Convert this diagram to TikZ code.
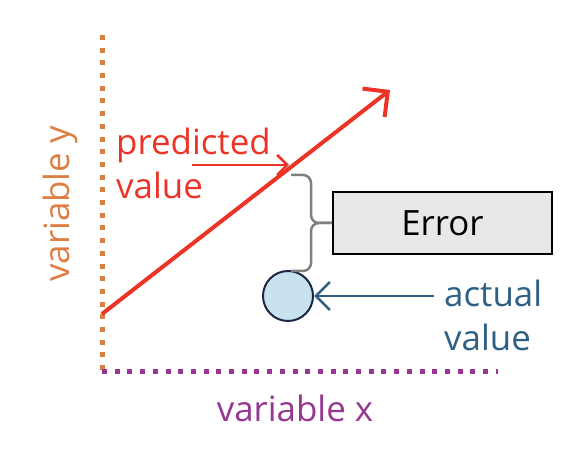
\documentclass[tikz,border=0pt]{standalone}
\usepackage{fontspec}
\setmainfont{Open Sans}
\usepackage{xcolor}
\usetikzlibrary{arrows.meta}
\definecolor{ycol}{RGB}{221,126,68}
\definecolor{xcol}{RGB}{150,55,145}
\definecolor{pcol}{RGB}{236,52,38}
\definecolor{acol}{RGB}{46,96,132}
\definecolor{ecol}{RGB}{232,232,232}
\definecolor{ccol}{RGB}{200,226,242}
\definecolor{bcol}{RGB}{25,40,65}
\tikzset{
  axis/.style={line width=5bp, dash pattern=on 5bp off 7.7bp},
  barb/.style={-{Straight Barb[length=#1, width=2*#1]}},
  brace/.style={draw=gray, line width=2.5bp, rounded corners=8bp},
}
\begin{document}
\begin{tikzpicture}[x=1bp, y=1bp, font=\fontsize{35}{44}\selectfont]
      \useasboundingbox (0,0) rectangle (574,452);
      \coordinate (o) at (102, 80);
      \coordinate (t) at (102, 417);
      \coordinate (r) at (498, 80);
      \coordinate (s) at (102, 138);
      \coordinate (e) at (390, 362);
      \coordinate (h) at (289, 287);
      \coordinate (u) at (291, 277);
      \coordinate (d) at (291, 181);
      \node[circle, draw=bcol, fill=ccol, line width=2bp, minimum size=50bp, inner sep=0pt] (c) at (288, 156) {};
      \node[draw=black, fill=ecol, line width=2bp, minimum width=219bp, minimum height=62bp] (b) at (442.5, 229) {Error};
      \node[pcol, anchor=north west, align=left, inner sep=0pt] (p) at (116, 324) {predicted\\value};
      \node[acol, anchor=north west, align=left, inner sep=0pt] (a) at (444, 172) {actual\\value};
      \node[xcol, anchor=base] (x) at (295, 30) {variable x};
      \node[ycol, anchor=base, rotate=90] (y) at (69, 248) {variable y};
      \draw [axis, ycol] (t) -- (o);
      \draw [axis, xcol] (o) -- (r);
      \draw [pcol, line width=4bp, barb=18bp] (s) -- (e);
      \draw [pcol, line width=2.5bp, barb=10bp] (192, 287) -- (h);
      \draw [acol, line width=2.5bp, barb=14bp] (434, 156) -- (c);
      \path [brace] (u) -- (311, 277) -- (311, 229) -- (b.west);
      \path [brace] (d) -- (311, 181) -- (311, 229) -- (b.west);
    \end{tikzpicture}
\end{document}
